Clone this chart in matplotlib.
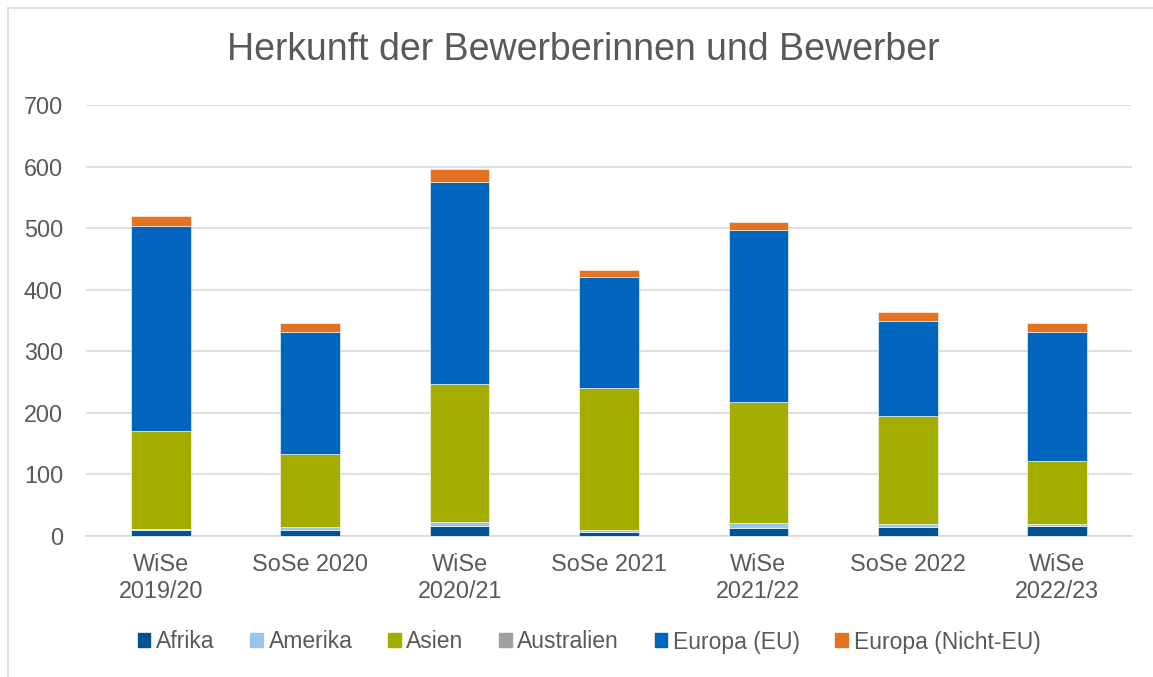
import matplotlib.pyplot as plt
import numpy as np
from matplotlib.lines import Line2D

# categories and values
semesters = ['WiSe\n2019/20', 'SoSe 2020', 'WiSe\n2020/21', 'SoSe 2021',
             'WiSe\n2021/22', 'SoSe 2022', 'WiSe\n2022/23']
afrika = [9, 10, 17, 7, 13, 14, 17]
amerika = [2, 5, 6, 2, 8, 5, 2]
asien = [159, 118, 224, 231, 197, 176, 103]
australien = [0, 0, 0, 0, 0, 0, 0]
europa_eu = [334, 199, 328, 181, 279, 155, 210]
europa_nicht_eu = [16, 14, 21, 11, 13, 14, 14]

series = [('Afrika', afrika, '#005293'),
          ('Amerika', amerika, '#98C6EA'),
          ('Asien', asien, '#A2AD00'),
          ('Australien', australien, '#A0A0A0'),
          ('Europa (EU)', europa_eu, '#0065BD'),
          ('Europa (Nicht-EU)', europa_nicht_eu, '#E37222')]

text_color = '#595959'
plt.rcParams['font.family'] = ['Liberation Sans', 'DejaVu Sans']

fig = plt.figure(figsize=(11.53, 6.77), dpi=100)
ax = fig.add_axes([86 / 1153, 1 - 536 / 677, (1132 - 86) / 1153, (536 - 105) / 677])

x = np.arange(len(semesters))
bottom = np.zeros(len(semesters))
for name, vals, color in series:
    ax.bar(x, vals, width=0.4, bottom=bottom, color=color, label=name,
           edgecolor='white', linewidth=0.4, zorder=3)
    bottom += np.array(vals)

ax.set_xlim(-0.5, len(semesters) - 0.5)
ax.set_ylim(0, 700)
ax.set_yticks(range(0, 701, 100))
ax.grid(axis='y', color='#D9D9D9', linewidth=1.2, zorder=0)
for s in ['top', 'right', 'left']:
    ax.spines[s].set_visible(False)
ax.spines['bottom'].set_color('#D9D9D9')
ax.spines['bottom'].set_linewidth(1.2)
ax.tick_params(axis='both', length=0, labelsize=16.8, colors=text_color, pad=12.5)
ax.tick_params(axis='y', pad=16.5)
ax.set_xticks(x)
ax.set_xticklabels(semesters, linespacing=1.2, va='top')

fig.text(0.5 + 7 / 1153, 1 - 50 / 677, 'Herkunft der Bewerberinnen und Bewerber',
         ha='center', va='center', fontsize=27, color=text_color)

handles = [plt.Rectangle((0, 0), 1, 1, color=c) for _, _, c in series]
fig.legend(handles, [n for n, _, _ in series], loc='center',
           bbox_to_anchor=(0.511, 1 - 642 / 677), ncol=6, frameon=False,
           fontsize=16.5, handlelength=0.55, handleheight=0.55, handletextpad=0.25,
           columnspacing=1.55, labelcolor=text_color)

# chart frame (left and top edges visible)
fig.add_artist(Line2D([8 / 1153, 8 / 1153], [0, 1 - 8 / 677], color='#D9D9D9', lw=1.2))
fig.add_artist(Line2D([8 / 1153, 1], [1 - 8 / 677, 1 - 8 / 677], color='#D9D9D9', lw=1.2))

fig.savefig('out.png', dpi=100)
